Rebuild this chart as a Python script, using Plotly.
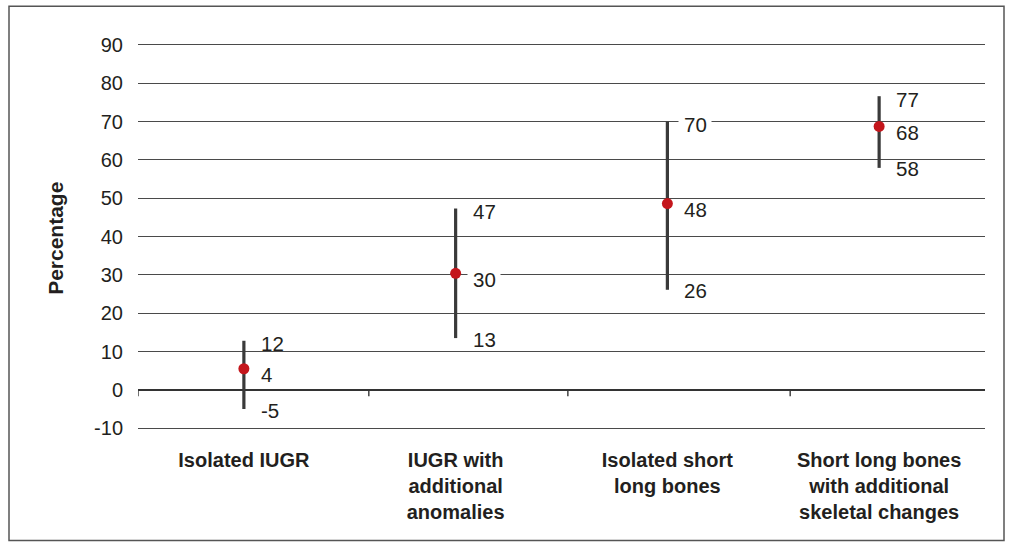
import plotly.graph_objects as go

categories = ["Isolated IUGR", "IUGR with<br>additional<br>anomalies",
              "Isolated short<br>long bones", "Short long bones<br>with additional<br>skeletal changes"]
cat_pos = [0.5, 1.5, 2.5, 3.5]
mean_vals = [5.5, 30.4, 48.6, 68.7]
high_vals = [12.8, 47.3, 70.0, 76.6]
low_vals = [-5.0, 13.5, 26.1, 57.9]
mean_labels = ["4", "30", "48", "68"]
high_labels = ["12", "47", "70", "77"]
low_labels = ["-5", "13", "26", "58"]
y_ticks = list(range(-10, 100, 10))
y_ticktext = [str(v) for v in y_ticks]
axis_tick_pos = [0, 1.09, 2.03, 3.08]

FONT = "Liberation Sans, Arial, Helvetica, sans-serif"
TXT = "#231f20"

# pixel geometry of the plot area
PX_L, PX_R = 138, 985
UNIT = 3.833  # px per y unit
Y_LO, Y_HI = -11, 91
PX_T = 45 - (Y_HI - 90) * UNIT
PX_B = 428.3 + (-10 - Y_LO) * UNIT
W, H = 1015, 542

fig = go.Figure()
fig.add_trace(go.Scatter(
    x=cat_pos, y=mean_vals, mode="markers",
    marker=dict(color="#c4161c", size=11),
    error_y=dict(type="data", symmetric=False,
                 array=[h - m for h, m in zip(high_vals, mean_vals)],
                 arrayminus=[m - l for m, l in zip(mean_vals, low_vals)],
                 color="#3a3a3a", thickness=3.2, width=0),
    showlegend=False, hoverinfo="skip"))

bg_anns, txt_anns = [], []
for x, m, h, l, mt, ht, lt in zip(cat_pos, mean_vals, high_vals, low_vals,
                                  mean_labels, high_labels, low_labels):
    for yv, t, ys in ((h, ht, -3), (m, mt, -6), (l, lt, -1)):
        # small white patch behind the label (breaks gridlines only at text core)
        bg_anns.append(dict(x=x, y=yv, text=" ", xref="x", yref="y", showarrow=False,
                            xanchor="left", yanchor="middle", xshift=11, yshift=ys,
                            font=dict(size=9, color="rgba(0,0,0,0)"),
                            bgcolor="white", borderpad=0, width=8 + 12 * len(t)))
        txt_anns.append(dict(x=x, y=yv, text=t, xref="x", yref="y", showarrow=False,
                             xanchor="left", yanchor="middle", xshift=15, yshift=ys,
                             font=dict(family=FONT, size=20.5, color=TXT)))

pw = PX_R - PX_L
ph = PX_B - PX_T
title_ann = dict(x=(56 - PX_L) / pw, y=(PX_B - 239) / ph, xref="paper", yref="paper",
                 text="<b>Percentage</b>", textangle=-90, showarrow=False,
                 xanchor="center", yanchor="middle",
                 font=dict(family=FONT, size=21, color=TXT))

shapes = []
for tp in axis_tick_pos:
    shapes.append(dict(type="line", xref="x", yref="y", x0=tp, x1=tp, y0=0, y1=-1.7,
                       line=dict(color="#444", width=1.5), layer="below"))
shapes.append(dict(type="rect", xref="paper", yref="paper",
                   x0=(9 - PX_L) / pw, x1=(1004 - PX_L) / pw,
                   y0=(PX_B - 540.5) / ph, y1=(PX_B - 6.5) / ph,
                   line=dict(color="#555", width=1.5)))

fig.update_layout(
    width=W, height=H,
    margin=dict(l=PX_L, r=W - PX_R, t=PX_T, b=H - PX_B, autoexpand=False),
    paper_bgcolor="white", plot_bgcolor="white",
    font=dict(family=FONT, color=TXT),
    xaxis=dict(range=[0, 4], tickvals=cat_pos, ticktext=["<b>%s</b>" % c for c in categories],
               showgrid=False, showline=False, zeroline=False, ticks="",
               tickfont=dict(family=FONT, size=20, color=TXT), ticklabelstandoff=14),
    yaxis=dict(range=[Y_LO, Y_HI], tickvals=y_ticks, ticktext=y_ticktext,
               showgrid=True, gridcolor="#4a4a4a",
               gridwidth=1, zeroline=True, zerolinecolor="#333", zerolinewidth=2,
               showline=False, ticks="", tickfont=dict(family=FONT, size=20, color=TXT),
               ticklabelstandoff=14),
    annotations=bg_anns + txt_anns + [title_ann], shapes=shapes,
)
fig.write_html("out.html", config={"displayModeBar": False},
               post_script="document.body.style.margin='0';document.body.style.overflow='hidden';")
